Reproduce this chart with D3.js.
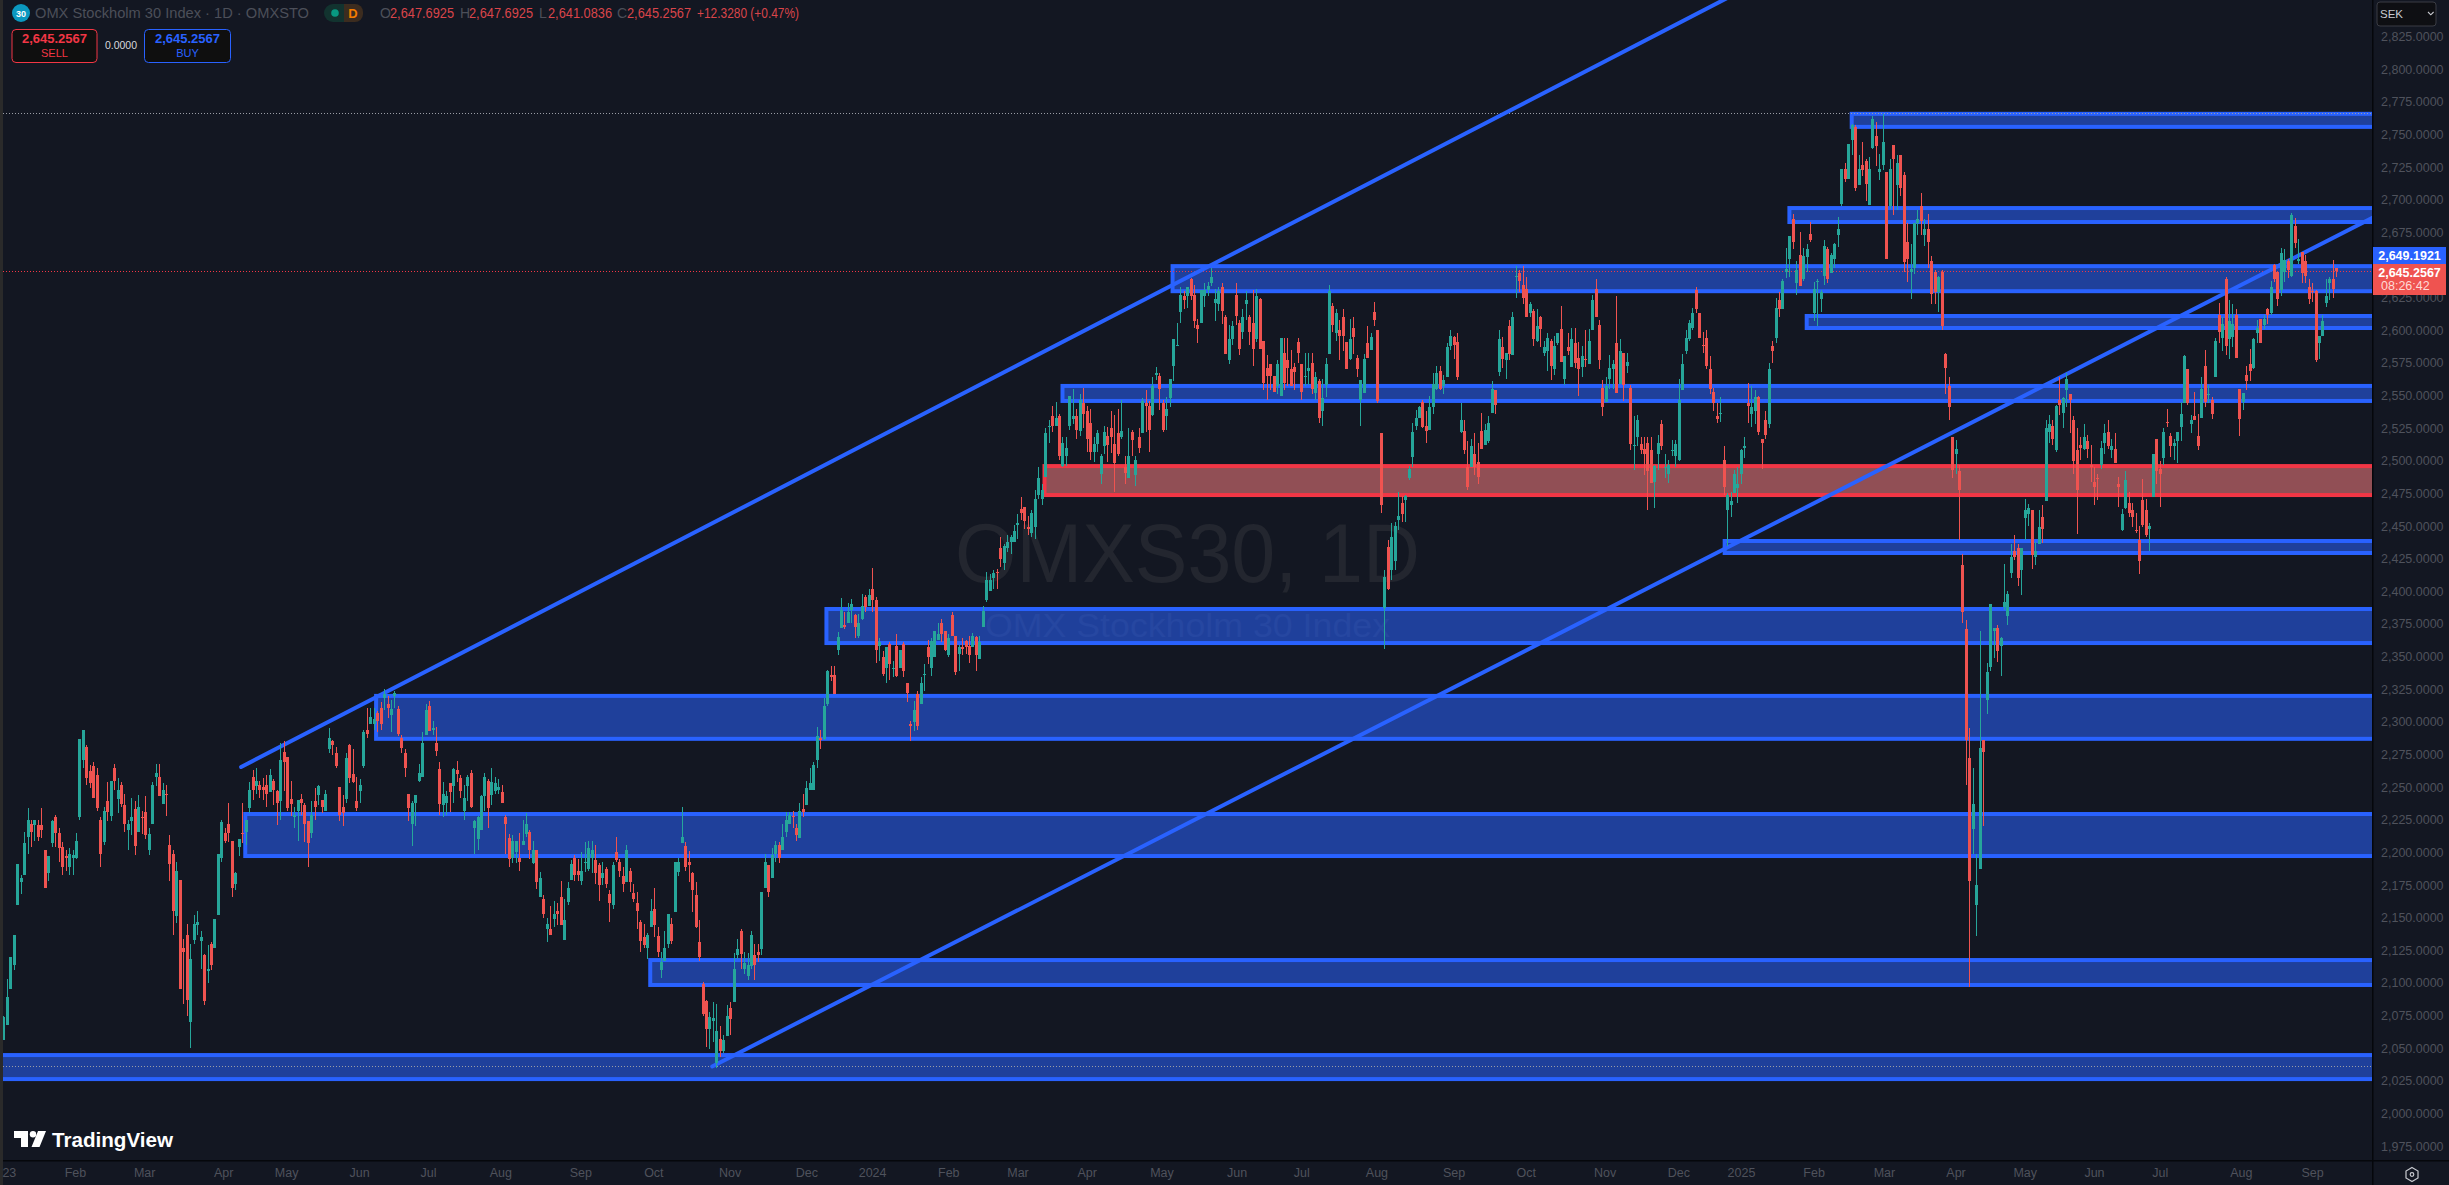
<!DOCTYPE html>
<html><head><meta charset="utf-8"><title>OMXS30 1D</title>
<script src="https://cdn.jsdelivr.net/npm/d3@7"></script>
<style>html,body{margin:0;padding:0;background:#131722;overflow:hidden}svg{display:block}text{font-family:"Liberation Sans",Arial,sans-serif}</style>
</head><body><div id="chart"></div>
<script>
// Daily bars [open, high, low, close]
const bars2023a=[[2056,2075,2056,2074],[2068,2103,2068,2089],[2095,2120,2095,2120],[2114,2137,2110,2137],[2160,2191,2160,2191],[2177,2183,2168,2180],[2183,2216,2183,2207],[2212,2234,2199,2225],[2222,2225,2204,2216],[2221,2225,2209,2225],[2221,2225,2209,2212],[2221,2234,2211,2217],[2202,2202,2173,2173],[2184,2197,2178,2197],[2207,2225,2204,2224],[2227,2229,2204,2215],[2215,2219,2193,2203],[2204,2208,2183,2189],[2197,2202,2186,2196],[2189,2203,2183,2199],[2196,2202,2183,2198],[2196,2215,2195,2209],[2227,2287,2225,2287],[2271,2294,2265,2294],[2281,2282,2252,2257],[2262,2267,2249,2253],[2266,2269,2242,2242],[2259,2265,2232,2234],[2225,2227,2189,2199],[2208,2235,2206,2232],[2239,2254,2224,2231],[2228,2255,2224,2255],[2265,2268,2248,2255],[2241,2257,2230,2248],[2252,2254,2235,2237],[2236,2245,2216,2222],[2217,2225,2202,2222],[2224,2242,2213,2227],[2233,2239,2198,2205],[2216,2244,2216,2235],[2227,2232,2214,2226],[2231,2243,2210,2213],[2202,2219,2198,2214],[2222,2254,2222,2252],[2258,2268,2251,2261],[2258,2268,2243,2243],[2237,2253,2237,2248],[2245,2252,2228,2244],[2206,2213,2178,2191],[2199,2202,2137,2155],[2151,2193,2146,2186],[2179,2179,2095,2095],[2127,2134,2084,2124],[2137,2145,2075,2087],[2070,2130,2050,2118],[2133,2152,2130,2145],[2144,2155,2137,2147],[2132,2140,2111,2135],[2121,2122,2083,2086],[2109,2129,2100,2111],[2130,2131,2110,2114],[2127,2149,2127,2149],[2152,2199,2152,2199],[2196,2225,2193,2223],[2215,2219,2207,2209],[2222,2238,2208,2215],[2209,2209,2166,2173],[2176,2185,2171,2184],[2204,2210,2197,2210],[2215,2238,2207,2214],[2216,2225,2206,2225],[2234,2254,2230,2248],[2258,2263,2240,2248],[2251,2265,2245,2255],[2252,2255,2242,2248],[2250,2257,2240,2248],[2252,2259,2235,2245],[2246,2264,2246,2259],[2255,2256,2236,2248],[2247,2248,2221,2238],[2239,2284,2225,2271],[2277,2285,2247,2269],[2273,2273,2232,2234],[2241,2255,2228,2237],[2227,2235,2219,2229],[2232,2240,2209,2240],[2241,2245,2229,2238],[2236,2238,2208,2222],[2224,2224,2189,2207],[2215,2239,2211,2229],[2239,2249,2225,2235],[2244,2252,2236,2251],[2240,2240,2230,2235],[2232,2248,2232,2245],[2279,2295,2276,2288],[2285,2286,2275,2282],[2276,2281,2265,2266],[2250,2250,2224,2229],[2235,2244,2220,2230],[2241,2276,2238,2272],[2282,2283,2253,2257],[2260,2279,2253,2254],[2239,2258,2232,2234],[2247,2256,2238,2252],[2266,2294,2265,2292],[2294,2311,2288,2291],[2298,2311,2298,2304],[2298,2311,2294,2302],[2307,2308,2292,2301],[2311,2315,2294,2298],[2318,2325,2309,2321],[2314,2320,2303,2311],[2305,2317,2292,2310],[2320,2324,2311,2322],[2310,2312,2289,2291],[2288,2290,2276,2280]];
const bars2023b=[[2276,2279,2258,2265],[2245,2245,2224,2234],[2222,2239,2205,2238],[2238,2244,2220,2244],[2255,2268,2254,2261],[2258,2292,2258,2284],[2290,2314,2290,2309],[2312,2316,2293,2293],[2294,2301,2290,2295],[2284,2296,2274,2278],[2264,2269,2229,2237],[2236,2254,2227,2245],[2238,2247,2229,2243],[2253,2253,2231,2246],[2251,2265,2238,2264],[2263,2270,2254,2260],[2257,2259,2242,2247],[2232,2252,2225,2242],[2251,2259,2239,2258],[2261,2263,2234,2235],[2219,2225,2199,2224],[2210,2228,2202,2227],[2217,2244,2217,2243],[2243,2261,2232,2258],[2255,2256,2219,2234],[2244,2265,2236,2254],[2247,2258,2245,2253],[2248,2256,2245,2250],[2246,2252,2238,2238],[2227,2229,2199,2222],[2211,2214,2189,2195],[2196,2213,2192,2209],[2200,2209,2192,2209],[2196,2215,2186,2193],[2206,2225,2206,2209],[2214,2230,2212,2222],[2216,2217,2195,2202],[2192,2209,2191,2202],[2202,2202,2172,2177],[2166,2185,2166,2180],[2164,2167,2150,2153],[2141,2150,2131,2145],[2141,2159,2137,2137],[2149,2163,2143,2153],[2155,2161,2144,2153],[2166,2178,2144,2144],[2133,2164,2133,2148],[2162,2177,2160,2173],[2179,2194,2179,2191],[2196,2198,2178,2183],[2186,2195,2178,2183],[2178,2200,2175,2186],[2192,2208,2185,2193],[2187,2209,2186,2203],[2196,2209,2184,2202],[2194,2206,2176,2184],[2190,2192,2163,2175],[2180,2193,2175,2184],[2187,2189,2173,2176],[2168,2171,2147,2161],[2160,2193,2157,2190],[2200,2212,2193,2194],[2193,2195,2181,2186],[2182,2189,2170,2176],[2177,2206,2177,2202],[2186,2188,2170,2177],[2169,2176,2162,2164],[2161,2170,2141,2155],[2147,2148,2124,2132],[2135,2145,2127,2129],[2127,2138,2118,2137],[2143,2164,2143,2155],[2157,2173,2135,2144],[2136,2143,2120,2124],[2110,2124,2104,2116],[2117,2140,2117,2127],[2130,2153,2127,2153],[2145,2150,2130,2132],[2154,2193,2154,2193],[2185,2196,2182,2193],[2207,2235,2207,2212],[2205,2208,2186,2189],[2193,2201,2177,2190],[2184,2185,2154,2171],[2167,2177,2142,2143],[2131,2148,2117,2120],[2099,2101,2075,2076],[2086,2087,2051,2065],[2065,2078,2049,2074],[2071,2085,2055,2073],[2039,2084,2035,2063],[2057,2067,2043,2048],[2048,2060,2046,2056],[2059,2083,2059,2075],[2081,2085,2060,2072],[2085,2123,2085,2111],[2121,2134,2118,2126],[2140,2141,2111,2122],[2111,2124,2107,2115],[2105,2123,2102,2114],[2113,2140,2111,2137],[2121,2130,2102,2114],[2124,2130,2116,2121],[2126,2170,2121,2170],[2173,2199,2173,2193],[2190,2190,2166,2170],[2180,2203,2180,2198],[2199,2209,2193,2206],[2206,2208,2192,2196],[2202,2222,2202,2212],[2216,2231,2212,2225],[2222,2231,2222,2229],[2228,2232,2219,2227],[2219,2222,2209,2213],[2211,2238,2211,2232]];
const bars2024a=[[2233,2245,2227,2231],[2236,2255,2236,2249],[2248,2265,2248,2253],[2248,2269,2248,2267],[2271,2296,2265,2289],[2288,2294,2279,2286],[2287,2318,2286,2312],[2314,2340,2312,2339],[2336,2343,2331,2334],[2336,2343,2321,2321],[2355,2369,2351,2365],[2372,2395,2372,2386],[2374,2384,2371,2373],[2376,2391,2376,2384],[2386,2394,2376,2390],[2382,2383,2364,2373],[2366,2383,2364,2376],[2379,2398,2378,2389],[2396,2397,2384,2388],[2389,2402,2389,2397],[2402,2418,2384,2393],[2393,2396,2345,2355],[2358,2364,2347,2361],[2350,2354,2335,2337],[2341,2357,2330,2357],[2360,2361,2332,2344],[2341,2347,2334,2341],[2358,2367,2334,2335],[2341,2355,2341,2355],[2360,2361,2334,2339],[2330,2330,2315,2322],[2298,2301,2285,2297],[2300,2316,2293,2309],[2321,2324,2294,2297],[2314,2334,2314,2330],[2337,2344,2324,2337],[2357,2363,2344,2350],[2341,2364,2335,2362],[2350,2370,2350,2370],[2363,2376,2363,2367],[2376,2379,2361,2367],[2370,2370,2354,2355],[2351,2367,2350,2364],[2382,2384,2366,2366],[2366,2366,2336,2338],[2352,2359,2339,2357],[2357,2364,2351,2356],[2362,2363,2352,2357],[2358,2366,2345,2351],[2357,2368,2357,2366],[2365,2366,2339,2351],[2348,2366,2348,2361],[2373,2389,2373,2385],[2393,2415,2392,2409],[2400,2413,2400,2409],[2410,2416,2402,2414],[2415,2417,2402,2414],[2433,2442,2419,2425],[2422,2436,2416,2435],[2433,2443,2430,2438],[2438,2443,2429,2442],[2438,2451,2438,2446],[2451,2459,2440,2452],[2463,2472,2455,2460],[2465,2465,2448,2454],[2449,2458,2443,2448],[2445,2462,2442,2460],[2449,2478,2440,2471],[2474,2495,2471,2487],[2471,2482,2466,2478],[2488,2525,2488,2521],[2526,2531,2514,2527],[2534,2542,2522,2527],[2527,2545,2527,2533],[2534,2536,2501,2504],[2496,2518,2495,2514],[2504,2518,2496,2510],[2527,2550,2524,2550],[2532,2555,2528,2534],[2534,2540,2517,2524],[2523,2551,2519,2547],[2544,2556,2525,2536],[2538,2542,2507,2517],[2529,2540,2501,2507],[2507,2518,2499,2513],[2513,2524,2507,2521],[2490,2505,2482,2504],[2511,2527,2505,2522],[2519,2526,2499,2512],[2525,2538,2506,2518],[2513,2535,2476,2498],[2521,2540,2504,2505],[2518,2547,2517,2523],[2495,2504,2482,2491],[2487,2525,2487,2504],[2522,2524,2504,2516],[2489,2504,2481,2501],[2518,2525,2506,2510],[2521,2548,2521,2546],[2544,2554,2522,2542],[2542,2546,2507,2524],[2535,2564,2534,2557],[2566,2572,2562,2567],[2565,2567,2539,2555],[2544,2547,2522,2524],[2534,2549,2524,2540],[2548,2563,2541,2563],[2573,2593,2561,2593],[2588,2606,2588,2589]];
const bars2024b=[[2614,2633,2606,2627],[2626,2630,2616,2623],[2626,2633,2617,2633],[2639,2640,2623,2626],[2627,2635,2602,2607],[2604,2609,2590,2601],[2606,2631,2606,2631],[2626,2636,2618,2631],[2631,2637,2626,2634],[2636,2648,2634,2641],[2621,2632,2607,2624],[2620,2633,2615,2630],[2633,2636,2605,2615],[2610,2612,2582,2582],[2577,2604,2574,2593],[2593,2607,2589,2603],[2627,2636,2604,2611],[2606,2608,2581,2586],[2599,2616,2593,2610],[2620,2630,2608,2623],[2610,2612,2589,2599],[2606,2631,2573,2586],[2593,2632,2591,2626],[2624,2625,2586,2586],[2592,2592,2554,2560],[2571,2581,2547,2565],[2574,2574,2554,2565],[2565,2565,2553,2553],[2557,2577,2551,2574],[2550,2594,2550,2594],[2583,2594,2554,2560],[2577,2594,2557,2571],[2570,2585,2557,2557],[2572,2575,2554,2568],[2591,2594,2575,2583]];
const bars2024c=[[2574,2574,2547,2553],[2564,2583,2557,2565],[2569,2583,2558,2571],[2575,2583,2551,2555],[2552,2568,2547,2564],[2561,2563,2529,2533],[2538,2563,2527,2548],[2558,2579,2549,2574],[2582,2635,2582,2630],[2619,2621,2599,2604],[2598,2616,2592,2613],[2600,2608,2577,2596],[2610,2616,2584,2596],[2591,2591,2570,2570],[2578,2609,2577,2593],[2602,2610,2582,2595],[2579,2581,2564,2570],[2547,2562,2527,2562],[2552,2582,2552,2578],[2590,2603,2579,2579],[2585,2598,2585,2595],[2614,2622,2603,2608],[2600,2600,2544,2546],[2521,2521,2460,2466],[2387,2416,2356,2411],[2434,2439,2401,2402],[2416,2452,2409,2442],[2423,2453,2416,2450],[2455,2476,2447,2458],[2468,2473,2453,2459],[2470,2474,2453,2473],[2487,2496,2485,2494],[2503,2529,2495,2522],[2527,2539,2524,2533],[2533,2542,2533,2541],[2545,2547,2525,2526],[2527,2538,2514,2523],[2524,2550,2524,2541],[2541,2567,2536,2559],[2555,2573,2554,2567],[2569,2573,2554,2555],[2557,2566,2551,2562],[2564,2590,2564,2587],[2588,2600,2585,2596],[2595,2596,2578,2589],[2591,2598,2562,2564],[2522,2544,2521,2531],[2523,2531,2505,2508],[2495,2515,2478,2480],[2495,2517,2495,2511],[2505,2521,2489,2495],[2499,2514,2482,2488],[2523,2537,2509,2509],[2512,2528,2512,2524],[2515,2534,2514,2529],[2537,2561,2537,2555],[2554,2554,2536,2543],[2568,2600,2565,2593],[2587,2595,2571,2578],[2577,2583,2563,2583],[2603,2608,2577,2582],[2581,2614,2581,2610],[2641,2649,2625,2642],[2644,2646,2629,2638],[2635,2649,2620,2625],[2632,2641,2610,2610],[2613,2622,2610,2620],[2615,2616,2588,2593],[2592,2616,2591,2603],[2610,2611,2587,2601],[2583,2592,2580,2587],[2584,2598,2569,2594],[2592,2593,2562,2573],[2570,2596,2566,2588],[2590,2598,2589,2598],[2601,2619,2576,2576],[2563,2580,2558,2580],[2587,2598,2581,2584],[2572,2602,2572,2593],[2590,2602,2571,2575],[2579,2591,2550,2570],[2572,2588,2564,2580],[2578,2600,2572,2577],[2574,2601,2574,2592],[2600,2627,2600,2623],[2632,2639,2610,2610],[2604,2608,2570,2577],[2556,2562,2534,2541],[2545,2564,2545,2557],[2563,2581,2555,2571],[2570,2577,2555,2574],[2590,2626,2552,2552],[2559,2593,2559,2584],[2583,2583,2546,2558],[2573,2583,2567,2576],[2556,2558,2508,2513],[2511,2534,2493,2512],[2518,2535,2511,2531],[2513,2518,2505,2508],[2509,2518,2489,2505],[2514,2518,2462,2492],[2508,2518,2483,2483],[2484,2497,2464,2496],[2505,2520,2493,2514],[2528,2531,2508,2511],[2495,2505,2487,2495],[2490,2501,2483,2497],[2508,2516,2504,2508],[2504,2516,2495,2513],[2501,2563,2500,2547],[2554,2582,2554,2574],[2584,2600,2582,2594],[2593,2608,2592,2606],[2602,2617,2600,2613],[2631,2633,2613,2616],[2613,2613,2594,2594],[2589,2599,2583,2588],[2594,2600,2570,2573],[2570,2580,2551,2555],[2553,2556,2538,2544],[2534,2544,2529,2532],[2536,2549,2530,2537],[2501,2511,2474,2480],[2462,2475,2435,2474],[2466,2476,2457,2469],[2475,2493,2475,2490],[2479,2495,2468,2482],[2490,2509,2482,2508],[2510,2518,2502,2511],[2544,2560,2529,2542],[2536,2557,2526,2541],[2538,2554,2528,2549],[2549,2550,2520,2522],[2517,2517,2494,2514],[2531,2538,2517,2520],[2528,2575,2525,2570],[2588,2592,2575,2584],[2594,2625,2590,2617],[2623,2629,2610,2616],[2616,2639,2616,2638],[2645,2663,2640,2647]];
const bars2025a=[[2655,2672,2641,2672],[2685,2689,2662,2668],[2636,2653,2627,2646],[2658,2675,2634,2634],[2639,2663,2638,2657],[2656,2666,2645,2662],[2674,2683,2668,2669],[2613,2637,2607,2632],[2637,2639,2603,2638],[2624,2631,2614,2629],[2642,2669,2635,2665],[2662,2664,2636,2639],[2644,2659,2644,2658],[2655,2667,2648,2666],[2673,2687,2664,2678],[2697,2724,2695,2724],[2724,2728,2714,2716],[2716,2743,2716,2743],[2746,2758,2734,2757],[2756,2757,2707,2709],[2711,2734,2711,2724],[2727,2744,2718,2723],[2730,2731,2699,2712],[2696,2733,2696,2724],[2740,2764,2739,2762],[2749,2760,2726,2741],[2721,2735,2715,2724],[2727,2766,2723,2744],[2721,2721,2655,2655],[2695,2731,2693,2724],[2742,2742,2688,2731],[2711,2734,2692,2728],[2734,2734,2703,2709],[2719,2721,2645,2652],[2668,2682,2637,2655],[2645,2666,2624,2647],[2648,2682,2643,2682],[2682,2692,2673,2685],[2695,2705,2673,2684],[2673,2685,2665,2678],[2678,2689,2648,2668],[2653,2657,2620,2628],[2645,2646,2620,2629],[2629,2642,2614,2641],[2645,2646,2600,2603],[2582,2583,2551,2571],[2557,2564,2531,2541],[2518,2518,2487,2493],[2505,2516,2490,2509],[2492,2497,2439,2478],[2420,2429,2376,2384],[2371,2378,2252,2286],[2272,2295,2097,2178],[2218,2265,2199,2237],[2160,2199,2136,2175],[2187,2370,2187,2280],[2286,2286,2220,2277],[2317,2345,2306,2338]];
const bars2025b=[[2342,2390,2339,2390],[2370,2372,2349,2372],[2372,2374,2346,2354],[2358,2365,2335,2364],[2388,2421,2386,2392],[2381,2400,2374,2398],[2414,2436,2410,2426],[2431,2443,2424,2426],[2433,2436,2404,2410],[2416,2433,2397,2433],[2456,2471,2439,2462],[2459,2467,2450,2464],[2462,2462,2417,2428],[2426,2438,2420,2431],[2436,2462,2436,2449],[2457,2466,2437,2448],[2469,2531,2469,2525],[2522,2535,2514,2528],[2527,2531,2512,2517],[2508,2543,2507,2542],[2547,2564,2535,2543],[2537,2549,2525,2548],[2554,2567,2541,2563],[2551,2551,2521,2547],[2531,2534,2490,2500],[2508,2525,2444,2478],[2512,2518,2501,2510],[2509,2528,2508,2518],[2515,2520,2502,2509],[2497,2512,2484,2495],[2484,2495,2466,2480],[2487,2490,2470,2486],[2497,2515,2494,2510],[2514,2528,2505,2521],[2522,2531,2509,2511],[2508,2517,2502,2511],[2509,2521,2498,2498],[2482,2488,2465,2480],[2447,2463,2446,2459],[2464,2492,2463,2485],[2468,2476,2457,2460],[2462,2468,2449,2457],[2447,2460,2445,2446],[2439,2450,2413,2423],[2470,2486,2449,2451],[2462,2471,2442,2443],[2448,2452,2431,2450],[2472,2505,2472,2505],[2517,2517,2482,2492],[2494,2500,2465,2490],[2502,2525,2497,2522],[2530,2540,2526,2529],[2519,2521,2503,2511],[2511,2517,2501,2514],[2515,2522,2498,2522],[2526,2545,2515,2536],[2544,2581,2544,2580],[2570,2570,2543,2544],[2528,2535,2521,2531],[2534,2553,2531,2531],[2519,2536,2508,2511],[2533,2564,2533,2555],[2573,2585,2541,2545],[2551,2558,2544,2551],[2547,2549,2532,2536]];
const bars2025c=[[2564,2594,2564,2592],[2612,2621,2590,2599],[2594,2610,2584,2605],[2639,2641,2581,2588],[2593,2623,2578,2607],[2595,2620,2587,2605],[2612,2616,2579,2579],[2555,2555,2519,2532],[2545,2552,2539,2552],[2566,2573,2554,2561],[2574,2586,2561,2569],[2571,2594,2570,2593],[2598,2608,2590,2602],[2609,2609,2590,2590],[2604,2612,2601,2609],[2616,2617,2605,2612],[2613,2638,2612,2633],[2650,2651,2637,2639],[2645,2645,2619,2624],[2631,2663,2626,2659],[2645,2662,2637,2654],[2653,2655,2640,2646],[2642,2690,2641,2688],[2680,2686,2663,2667],[2653,2670,2651,2655],[2660,2660,2636,2644],[2653,2658,2636,2642],[2633,2639,2620,2624],[2630,2636,2622,2629],[2630,2631,2576,2577],[2590,2596,2578,2596],[2596,2612,2596,2607],[2621,2639,2618,2626],[2636,2641,2623,2639],[2639,2654,2625,2632],[2647.6925,2647.6925,2641.0836,2645.2567]];

// Month labels and the bar each one sits under
const monthLabels=["23","Feb","Mar","Apr","May","Jun","Jul","Aug","Sep","Oct","Nov","Dec","2024","Feb","Mar","Apr","May","Jun","Jul","Aug","Sep","Oct","Nov","Dec","2025","Feb","Mar","Apr","May","Jun","Jul","Aug","Sep"];
const monthBars=[1.6,20.7,40.7,63.5,81.7,102.8,122.7,143.6,166.7,187.8,209.8,232,251,273,293,313,334.6,356.3,375,396.7,419,439.8,462.6,483.9,502,523,543.3,564,584,604,623,646.4,667];
// 2,650 sits under the last-price boxes and is not visible in the picture
const priceTicks=d3.range(1975,2826,25).filter(p=>p!==2650);

// Zones: [start bar, top price, bottom price]
const blueZones=[[0,2044.7,2026.3],[186.9,2117.5,2098.4],[69.9,2229.4,2197.2],[107.7,2319.9,2287],[237.8,2386.5,2360.4],[497.3,2438.6,2429.4],[306,2557.4,2545.9],[337.8,2649.2,2630],[521,2611,2601.8],[516,2693.7,2683],[534,2765.9,2755.9]];
const redZones=[[300.8,2496,2473.8]];
// Trend lines: [bar, price, bar, price]
const trendLines=[[68.7,2265.4,503.4,2862],[204.8,2036,684.9,2686.9]];
const dottedLines=[{price:2766.5,color:"#9a9da6"},{price:2645.2567,color:"#f23645"},{price:2036,color:"#9a9da6"}];

const W=2449,H=1185,plotL=3,plotR=2372,plotB=1160;
const bars=[...bars2023a,...bars2023b,...bars2024a,...bars2024b,...bars2024c,...bars2025a,...bars2025b,...bars2025c];
const lastBarX=2336.3,firstBarX=3.3;
const x=d3.scaleLinear().domain([0,bars.length-1]).range([firstBarX,lastBarX]);
const y=d3.scaleLinear().domain([2825,2000]).range([36.7,1113.4]);

const svg=d3.select("#chart").append("svg").attr("width",W).attr("height",H).attr("viewBox",`0 0 ${W} ${H}`);
svg.append("rect").attr("width",W).attr("height",H).attr("fill","#131722");
svg.append("defs").append("clipPath").attr("id","plot").append("rect").attr("x",plotL).attr("y",0).attr("width",plotR-plotL).attr("height",plotB);
const plot=svg.append("g").attr("clip-path","url(#plot)");

// watermark
plot.append("text").attr("x",955).attr("y",582).attr("font-size",84).attr("fill","#23262f").attr("textLength",465).attr("lengthAdjust","spacingAndGlyphs").text("OMXS30, 1D");
plot.append("text").attr("x",985).attr("y",637).attr("font-size",33).attr("fill","#23262f").attr("textLength",405).attr("lengthAdjust","spacingAndGlyphs").text("OMX Stockholm 30 Index");

// zones
function zones(data,fill,stroke){
  const g=plot.append("g");
  data.forEach(z=>{
    const L=z[0]===0?x(0)-20:x(z[0]);
    g.append("rect").attr("x",L).attr("y",y(z[1])).attr("width",plotR+10-L).attr("height",y(z[2])-y(z[1]))
     .attr("fill",fill).attr("stroke",stroke).attr("stroke-width",4);
  });
}
zones(blueZones,"rgba(41,98,255,0.55)","#2962ff");
zones(redZones,"rgba(250,126,128,0.55)","#f23645");

// dotted levels
plot.append("g").selectAll("line").data(dottedLines).join("line")
  .attr("x1",plotL).attr("x2",plotR).attr("y1",d=>Math.round(y(d.price))+.5).attr("y2",d=>Math.round(y(d.price))+.5)
  .attr("stroke",d=>d.color).attr("stroke-width",1).attr("stroke-dasharray","1 2");

// trend lines
plot.append("g").selectAll("line").data(trendLines).join("line")
  .attr("x1",d=>x(d[0])).attr("y1",d=>y(d[1])).attr("x2",d=>x(d[2])).attr("y2",d=>y(d[3]))
  .attr("stroke","#2962ff").attr("stroke-width",4).attr("stroke-linecap","round");

// candles
const up="#26a69a",down="#ef5350";
const c=plot.append("g").attr("shape-rendering","crispEdges").selectAll("g").data(bars).join("g");
c.append("line").attr("x1",(d,i)=>Math.round(x(i))+.5).attr("x2",(d,i)=>Math.round(x(i))+.5)
 .attr("y1",d=>y(d[1])).attr("y2",d=>y(d[2])).attr("stroke",d=>d[3]>=d[0]?up:down).attr("stroke-width",1);
c.append("rect").attr("x",(d,i)=>Math.round(x(i))-1).attr("width",3)
 .attr("y",d=>y(Math.max(d[0],d[3]))).attr("height",d=>Math.max(1,Math.abs(y(d[0])-y(d[3]))))
 .attr("fill",d=>d[3]>=d[0]?up:down);

// left strip and separators
svg.append("rect").attr("x",0).attr("y",0).attr("width",3).attr("height",H).attr("fill","#2a2a2a");
svg.append("rect").attr("x",plotR).attr("y",0).attr("width",1.5).attr("height",H).attr("fill","#05070b");
svg.append("rect").attr("x",3).attr("y",plotB).attr("width",W).attr("height",1.5).attr("fill","#05070b");

// axes
const tickCol="#4f525c";
const yAxis=d3.axisRight(y).tickValues(priceTicks).tickFormat(d3.format(",.4f")).tickSize(0).tickPadding(0);
const gy=svg.append("g").attr("transform",`translate(2381,0)`).call(yAxis);
gy.select(".domain").remove();
gy.selectAll("text").attr("fill",tickCol).attr("font-size",12.5).attr("font-family","Liberation Sans");
const xAxis=d3.axisBottom(x).tickValues(monthBars).tickFormat((d,i)=>monthLabels[i]).tickSize(0).tickPadding(0);
const gx=svg.append("g").attr("transform",`translate(0,1168)`).call(xAxis);
gx.select(".domain").remove();
gx.selectAll("text").attr("fill",tickCol).attr("font-size",12.5).attr("font-family","Liberation Sans");

// price labels
svg.append("rect").attr("x",2373).attr("y",247).attr("width",73).attr("height",17).attr("fill","#2962ff");
svg.append("text").attr("x",2409.5).attr("y",260).attr("text-anchor","middle").attr("fill","#fff").attr("font-size",12.5).attr("font-weight",700).text(d3.format(",.4f")(2649.1921));
svg.append("rect").attr("x",2373).attr("y",264).attr("width",73).attr("height",31).attr("fill","#ef5350");
svg.append("text").attr("x",2409.5).attr("y",276.5).attr("text-anchor","middle").attr("fill","#fff").attr("font-size",12.5).attr("font-weight",700).text(d3.format(",.4f")(2645.2567));
svg.append("text").attr("x",2381).attr("y",290).attr("fill","#ffd9d6").attr("font-size",12.5).text("08:26:42");

// SEK button
svg.append("rect").attr("x",2377).attr("y",2).attr("width",59).attr("height",24).attr("rx",3).attr("fill","#0e0f13").attr("stroke","#3a3c44");
svg.append("text").attr("x",2380).attr("y",18).attr("fill","#c8cad0").attr("font-size",11.5).text("SEK");
svg.append("path").attr("d","M2436 12 m-8 0 l2.8 2.8 l2.8 -2.8").attr("fill","none").attr("stroke","#c8cad0").attr("stroke-width",1.1);

// gear
svg.append("path").attr("d","M2412 1167.5 l6 3.5 v7 l-6 3.5 l-6 -3.5 v-7 z").attr("fill","none").attr("stroke","#c8cad0").attr("stroke-width",1.2);
svg.append("circle").attr("cx",2412).attr("cy",1174.5).attr("r",1.8).attr("fill","none").attr("stroke","#c8cad0").attr("stroke-width",1.2);

// legend
svg.append("circle").attr("cx",21).attr("cy",13).attr("r",9).attr("fill","#0b98c0");
svg.append("text").attr("x",21).attr("y",16.5).attr("text-anchor","middle").attr("fill","#fff").attr("font-size",9).attr("font-weight",700).text("30");
const muted="#4c4f59",redText="#d9454a";
svg.append("text").attr("x",35).attr("y",18).attr("fill",muted).attr("font-size",14).attr("textLength",274).attr("lengthAdjust","spacingAndGlyphs").text("OMX Stockholm 30 Index · 1D · OMXSTO");
svg.append("rect").attr("x",324).attr("y",4).attr("width",20).attr("height",18).attr("rx",9).attr("fill","#12332f");
svg.append("rect").attr("x",334).attr("y",4).attr("width",10).attr("height",18).attr("fill","#12332f");
svg.append("rect").attr("x",344).attr("y",4).attr("width",19).attr("height",18).attr("rx",8).attr("fill","#3c2c1f");
svg.append("rect").attr("x",344).attr("y",4).attr("width",8).attr("height",18).attr("fill","#3c2c1f");
svg.append("circle").attr("cx",335).attr("cy",13).attr("r",3.8).attr("fill","#089981");
svg.append("text").attr("x",353).attr("y",18).attr("text-anchor","middle").attr("fill","#f57c00").attr("font-size",13).attr("font-weight",700).text("D");
const ohlc=[["O","2,647.6925",380,390,64],["H","2,647.6925",460,469,64],["L","2,641.0836",539,548,64],["C","2,645.2567",617,627,64]];
ohlc.forEach(o=>{
  svg.append("text").attr("x",o[2]).attr("y",18).attr("fill",muted).attr("font-size",14).text(o[0]);
  svg.append("text").attr("x",o[3]).attr("y",18).attr("fill",redText).attr("font-size",14).attr("textLength",o[4]).attr("lengthAdjust","spacingAndGlyphs").text(o[1]);
});
svg.append("text").attr("x",697).attr("y",18).attr("fill",redText).attr("font-size",14).attr("textLength",102).attr("lengthAdjust","spacingAndGlyphs").text("+12.3280 (+0.47%)");

// sell / buy widgets
[[12,85,"#f23645","2,645.2567","SELL"],[144.5,86,"#2962ff","2,645.2567","BUY"]].forEach(b=>{
  svg.append("rect").attr("x",b[0]).attr("y",29.5).attr("width",b[1]).attr("height",33).attr("rx",4).attr("fill","#0f0f0f").attr("stroke",b[2]).attr("stroke-width",1);
  svg.append("text").attr("x",b[0]+b[1]/2).attr("y",43).attr("text-anchor","middle").attr("fill",b[2]).attr("font-size",12.5).attr("font-weight",700).attr("textLength",65).attr("lengthAdjust","spacingAndGlyphs").text(b[3]);
  svg.append("text").attr("x",b[0]+b[1]/2).attr("y",57).attr("text-anchor","middle").attr("fill",b[2]).attr("font-size",11).text(b[4]);
});
svg.append("text").attr("x",121).attr("y",49).attr("text-anchor","middle").attr("fill","#d8d9dc").attr("font-size",10.5).text("0.0000");

// logo
const logo=svg.append("g").attr("fill","#fff");
logo.append("path").attr("d","M14 1131h14v16h-7v-9h-7z");
logo.append("circle").attr("cx",33).attr("cy",1134.2).attr("r",3.2);
logo.append("path").attr("d","M38 1131h8l-6.5 16h-8z");
logo.append("text").attr("x",52).attr("y",1147).attr("font-size",21).attr("font-weight",700).attr("textLength",121).attr("lengthAdjust","spacingAndGlyphs").text("TradingView");
</script></body></html>
